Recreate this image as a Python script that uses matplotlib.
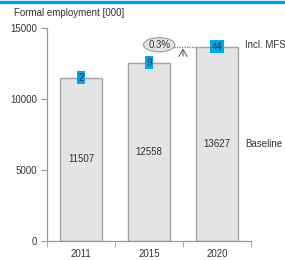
import matplotlib.pyplot as plt
from matplotlib.lines import Line2D

plt.rcParams['font.family'] = ['Liberation Sans', 'DejaVu Sans']

years = ['2011', '2015', '2020']
baseline = [11507, 12558, 13627]
mfs = [2, 9, 44]
share_label = '0.3%'

bar_fc = '#e3e4e6'
bar_ec = '#a3a3a3'
axis_c = '#9a9a9a'
text_c = '#333333'
cyan = '#00a8e8'

fig = plt.figure(figsize=(2.85, 2.6), dpi=100)
ax = fig.add_axes([47 / 285, 1 - 241 / 260, 204 / 285, 213 / 260])

x = range(len(years))
w = 0.63
totals = [b + m for b, m in zip(baseline, mfs)]
ax.bar(x, totals, width=w, color=bar_fc, edgecolor=bar_ec, linewidth=1.0, zorder=2)

for i, (b, m, t) in enumerate(zip(baseline, mfs, totals)):
    ax.text(i, b / 2, f'{b}', ha='center', va='center', fontsize=7, color=text_c, zorder=4)
    ax.text(i, t, f'{m}', ha='center', va='center', fontsize=7, color=text_c, zorder=5,
            bbox=dict(boxstyle='square,pad=0.15', fc=cyan, ec='none'))

# growth marker between 2015 and 2020
ax.text(1.15, totals[2] + 150, share_label, ha='center', va='center', fontsize=7, color=text_c,
        bbox=dict(boxstyle='ellipse,pad=0.0', fc=bar_fc, ec=axis_c, lw=0.8))
ax.plot([1.37, 2 - w / 2], [totals[2], totals[2]], ls=(0, (1, 1)), color='#777777', lw=0.9, zorder=3)
ax.annotate('', xy=(1.5, totals[2] - 100), xytext=(1.5, totals[2] - 650),
            arrowprops=dict(arrowstyle='->,head_length=0.5,head_width=0.3', color='#777777',
                            lw=0.9, shrinkA=0, shrinkB=0))

ax.text(2.41, totals[2] + 150, 'Incl. MFS', ha='left', va='center', fontsize=7, color=text_c)
ax.text(2.41, 6830, 'Baseline', ha='left', va='center', fontsize=7, color=text_c)

ax.set_xlim(-0.5, 2.5)
ax.set_ylim(0, 15000)
ax.set_yticks([0, 5000, 10000, 15000])
ax.set_xticks([0, 1, 2])
ax.set_xticklabels(years)
ax.set_xticks([-0.5, 0.5, 1.5, 2.5], minor=True)
ax.tick_params(axis='x', which='major', length=0, pad=6, labelsize=7, labelcolor=text_c)
ax.tick_params(axis='x', which='minor', length=4, color=axis_c, direction='out')
ax.tick_params(axis='y', length=4, color=axis_c, labelsize=7, labelcolor=text_c, pad=3)
for s in ['top', 'right']:
    ax.spines[s].set_visible(False)
for s in ['left', 'bottom']:
    ax.spines[s].set_color(axis_c)
    ax.spines[s].set_linewidth(0.9)

fig.text(14 / 285, 1 - 13 / 260, 'Formal employment [000]', ha='left', va='center',
         fontsize=7, color=text_c)
fig.add_artist(Line2D([0, 1], [1 - 1.5 / 260, 1 - 1.5 / 260], color='#00a0e0', lw=2.4,
                      transform=fig.transFigure))

fig.savefig('out.png', dpi=100)
